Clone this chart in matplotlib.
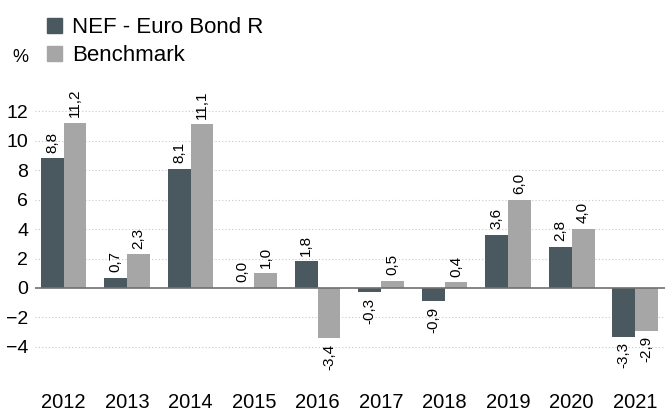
import matplotlib.pyplot as plt
import numpy as np
from matplotlib.patches import Patch

years = ['2012', '2013', '2014', '2015', '2016', '2017', '2018', '2019', '2020', '2021']
fund = [8.8, 0.7, 8.1, 0.0, 1.8, -0.3, -0.9, 3.6, 2.8, -3.3]
bench = [11.2, 2.3, 11.1, 1.0, -3.4, 0.5, 0.4, 6.0, 4.0, -2.9]
names = ['NEF - Euro Bond R', 'Benchmark']

c_fund = '#4a5860'
c_bench = '#a6a6a6'

plt.rcParams['font.family'] = ['Liberation Sans', 'DejaVu Sans']

fig = plt.figure(figsize=(6.65, 4.15), dpi=100)
ax = fig.add_axes([0.0526, 0.0928, 0.9474, 0.693])

x = np.arange(len(years))
w = 0.36
b1 = ax.bar(x - w / 2, fund, w, color=c_fund, zorder=3)
b2 = ax.bar(x + w / 2, bench, w, color=c_bench, zorder=3)

# value labels, rotated
for bars, vals in ((b1, fund), (b2, bench)):
    for b, v in zip(bars, vals):
        xc = b.get_x() + b.get_width() / 2
        txt = ('%.1f' % v).replace('.', ',')
        if v >= 0:
            ax.annotate(txt, (xc, v), xytext=(0, 4), textcoords='offset points',
                        rotation=90, ha='center', va='bottom', fontsize=11)
        else:
            ax.annotate(txt, (xc, v), xytext=(0, -4), textcoords='offset points',
                        rotation=90, ha='center', va='top', fontsize=11)

ax.set_xlim(-0.45, 9.47)
ax.set_ylim(-6, 13.5)
ax.set_yticks([-4, -2, 0, 2, 4, 6, 8, 10, 12])
ax.set_xticks(x)
ax.set_xticklabels(years)
for s in ax.spines.values():
    s.set_visible(False)
for yv in [-4, -2, 2, 4, 6, 8, 10, 12]:
    ax.axhline(yv, color='#c8c8c8', linestyle=(0, (1, 2)), linewidth=0.8, zorder=1)
ax.axhline(0, color='#707070', linewidth=1.2, zorder=4)
ax.tick_params(axis='y', length=0, labelsize=14, pad=5)
ax.tick_params(axis='x', length=0, labelsize=14.5, pad=12)

fig.text(0.031, 0.862, '%', fontsize=13, ha='center', va='center')

handles = [Patch(color=c_fund), Patch(color=c_bench)]
fig.legend(handles, names, loc='upper left', bbox_to_anchor=(0.07, 0.958),
           frameon=False, fontsize=16, handlelength=0.7, handleheight=0.7,
           handletextpad=0.45, labelspacing=0.3, borderaxespad=0, borderpad=0)

fig.savefig('out.png', dpi=100)
